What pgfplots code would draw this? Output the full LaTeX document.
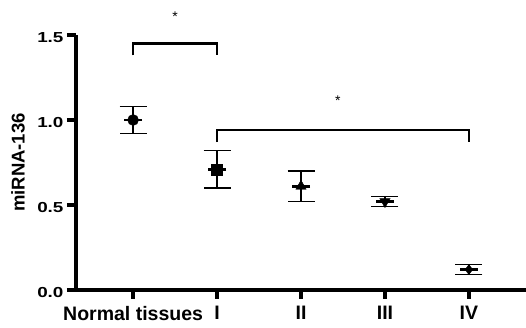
\documentclass[border=0pt]{standalone}
\usepackage{fontspec}
\setmainfont{Liberation Sans}
\newfontfamily\tickfont[FakeStretch=1.3]{Liberation Sans Bold}
\usepackage{pgfplots}
\pgfplotsset{compat=1.18}
\begin{document}
\begin{tikzpicture}
\useasboundingbox (-76pt,-38pt) rectangle (450pt,290pt);
\begin{axis}[
  at={(0pt,0pt)}, anchor=south west,
  scale only axis, width=450pt, height=255pt,
  xmin=-0.68, xmax=4.68, ymin=0, ymax=1.5,
  clip=false,
  axis lines=left, axis line style={-, line width=4pt},
  xtick={0,1,2,3,4}, xticklabels={Normal tissues, I, II, III, IV},
  ytick={0,0.5,1,1.5}, yticklabels={0.0,0.5,1.0,1.5},
  tick align=outside, major tick length=9pt,
  tick style={line width=3.5pt, black},
  yticklabel style={font=\tickfont\fontsize{14.5}{16}\selectfont, yshift=-3pt},
  xticklabel style={font=\bfseries\fontsize{19.5}{21}\selectfont, yshift=-4pt},
  ylabel={\bfseries\fontsize{18.5}{20}\selectfont miRNA-136},
  ylabel style={at={(axis description cs:-0.129,0.5)}, anchor=center},
  error bars/y dir=both, error bars/y explicit,
  error bars/error bar style={line width=1.4pt, black},
  error bars/error mark options={line width=1.6pt, mark size=13.5pt, rotate=90},
]
\addplot[only marks, black, mark=*, mark size=5.5pt] coordinates {(0,1.00) +- (0,0.08)};
\addplot[only marks, black, mark=square*, mark size=5.5pt] coordinates {(1,0.71) +- (0,0.11)};
\addplot[only marks, black, mark=triangle*, mark size=6pt] coordinates {(2,0.61) +- (0,0.09)};
\addplot[only marks, black, mark=triangle*, mark size=6pt, mark options={rotate=180}] coordinates {(3,0.52) +- (0,0.03)};
\addplot[only marks, black, mark=diamond*, mark size=5pt] coordinates {(4,0.12) +- (0,0.03)};
% mean lines
\addplot[only marks, black, mark=-, mark size=9pt, mark options={line width=2.8pt}, error bars/y dir=none] coordinates {(0,1.00) (1,0.71) (2,0.61) (3,0.52) (4,0.12)};
% significance brackets
\addplot[black, line width=2.4pt, no marks, error bars/y dir=none] coordinates {(0,1.38) (0,1.45) (1,1.45) (1,1.38)};
\addplot[black, line width=2.4pt, no marks, error bars/y dir=none] coordinates {(1,0.87) (1,0.94) (4,0.94) (4,0.87)};
\node[font=\fontsize{14}{14}\selectfont, inner sep=0pt] at (axis cs:0.5,1.61) {*};
\node[font=\fontsize{14}{14}\selectfont, inner sep=0pt] at (axis cs:2.44,1.115) {*};
\end{axis}
\end{tikzpicture}
\end{document}
